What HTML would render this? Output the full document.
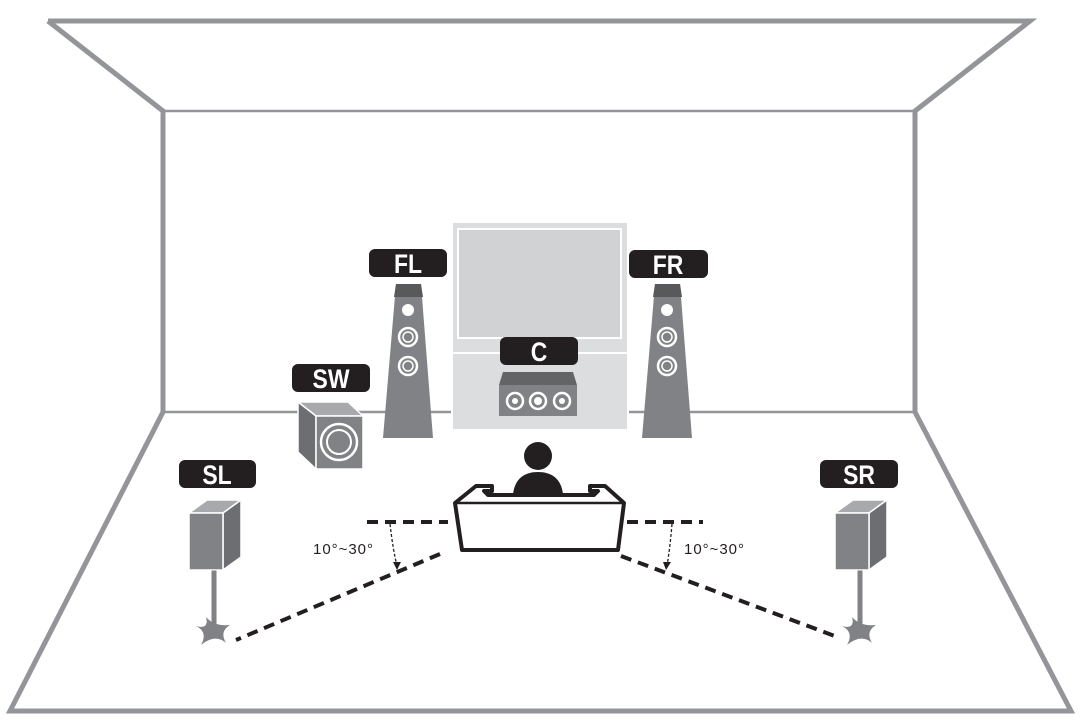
<!DOCTYPE html>
<html><head><meta charset="utf-8"><style>html,body{margin:0;padding:0;background:#fff}svg{display:block}</style></head><body>
<svg width="1080" height="728" viewBox="0 0 1080 728" xmlns="http://www.w3.org/2000/svg" font-family="Liberation Sans, sans-serif">
<g fill="none" stroke="#939598" stroke-linejoin="miter">
<polyline points="48,21 1030,21 915,111 915,412 1071,711 10,711 163,412 163,111 48,21" stroke-width="5"/>
<line x1="163" y1="111" x2="915" y2="111" stroke-width="2.5"/>
<line x1="163" y1="412" x2="915" y2="412" stroke-width="2.5"/>
</g>
<!-- TV -->
<rect x="452" y="222" width="176" height="208" fill="#dcddde" stroke="#fff" stroke-width="2"/>
<rect x="458" y="229" width="163" height="109" fill="#d1d2d4" stroke="#fff" stroke-width="2"/>
<line x1="452" y1="353" x2="628" y2="353" stroke="#fff" stroke-width="2"/>
<!-- labels -->
<g fill="#231f20">
<rect x="369" y="249" width="78" height="28" rx="6"/>
<rect x="629" y="250" width="79" height="28" rx="6"/>
<rect x="500" y="337" width="78" height="28" rx="6"/>
<rect x="292" y="364" width="78" height="28" rx="6"/>
<rect x="179" y="460" width="77" height="28" rx="6"/>
<rect x="820" y="460" width="78" height="28" rx="6"/>
</g>
<g fill="#fff" font-size="27" font-weight="bold" text-anchor="middle">
<text transform="translate(408,273) scale(0.85,1)">FL</text>
<text transform="translate(668,274) scale(0.85,1)">FR</text>
<text transform="translate(539,361) scale(0.85,1)">C</text>
<text transform="translate(331,388) scale(0.85,1)">SW</text>
<text transform="translate(217,484) scale(0.85,1)">SL</text>
<text transform="translate(859,484) scale(0.85,1)">SR</text>
</g>
<!-- towers -->
<g>
<polygon points="396,284 421,284 433,438 383,438" fill="#808285"/>
<polygon points="396,284 421,284 423,297 394,297" fill="#58595b"/>
<circle cx="408" cy="310" r="6" fill="#fff"/>
<circle cx="408" cy="337" r="9" fill="none" stroke="#fff" stroke-width="2.5"/><circle cx="408" cy="337" r="5" fill="none" stroke="#fff" stroke-width="1.5"/>
<circle cx="408" cy="366" r="9" fill="none" stroke="#fff" stroke-width="2.5"/><circle cx="408" cy="366" r="5" fill="none" stroke="#fff" stroke-width="1.5"/>
</g>
<g transform="translate(259,0)">
<polygon points="396,284 421,284 433,438 383,438" fill="#808285"/>
<polygon points="396,284 421,284 423,297 394,297" fill="#58595b"/>
<circle cx="408" cy="310" r="6" fill="#fff"/>
<circle cx="408" cy="337" r="9" fill="none" stroke="#fff" stroke-width="2.5"/><circle cx="408" cy="337" r="5" fill="none" stroke="#fff" stroke-width="1.5"/>
<circle cx="408" cy="366" r="9" fill="none" stroke="#fff" stroke-width="2.5"/><circle cx="408" cy="366" r="5" fill="none" stroke="#fff" stroke-width="1.5"/>
</g>
<!-- center speaker -->
<polygon points="503,372 573,372 577,385 499,385" fill="#636466"/>
<rect x="499" y="385" width="78" height="31" fill="#808285"/>
<g fill="none" stroke="#fff" stroke-width="2.5">
<circle cx="515" cy="401" r="8"/><circle cx="538" cy="401" r="8"/><circle cx="562" cy="401" r="8"/></g>
<g fill="#fff"><circle cx="515" cy="401" r="3"/><circle cx="538" cy="401" r="4"/><circle cx="562" cy="401" r="3"/></g>
<!-- subwoofer -->
<polygon points="298,402 348,402 363,416 316,416" fill="#a7a9ac" stroke="#fff" stroke-width="1.5"/>
<polygon points="298,402 316,416 316,469 298,452" fill="#6d6e71" stroke="#fff" stroke-width="1.5"/>
<rect x="316" y="416" width="47" height="53" fill="#808285" stroke="#fff" stroke-width="1.5"/>
<circle cx="339" cy="442" r="18" fill="none" stroke="#fff" stroke-width="2.5"/>
<circle cx="339" cy="442" r="12" fill="none" stroke="#fff" stroke-width="2"/>
<!-- person -->
<circle cx="538" cy="456" r="14" fill="#231f20"/>
<path d="M513,494 C515,478 525,472 538,472 C551,472 561,478 563,494 Z" fill="#231f20"/>
<!-- sofa -->
<path d="M455,503 L476,486 L492,486 L492,491 L484,491 L488,495 L594,495 L598,491 L590,491 L590,486 L605,486 L624,503 L618,550 L462,550 Z" fill="#fff" stroke="#231f20" stroke-width="4" stroke-linejoin="round"/>
<line x1="455" y1="503" x2="624" y2="503" stroke="#231f20" stroke-width="2.5"/>
<!-- side speakers -->
<g>
<polygon points="189,513 207,500 241,500 223,513" fill="#a7a9ac" stroke="#fff" stroke-width="1.5"/>
<polygon points="223,513 241,500 241,557 223,570" fill="#6d6e71" stroke="#fff" stroke-width="1.5"/>
<rect x="189" y="513" width="34" height="57" fill="#808285" stroke="#fff" stroke-width="1.5"/>
<rect x="211" y="570" width="6" height="63" fill="#808285" stroke="#fff" stroke-width="1"/>
<path d="M196,626 C206,629 208,624 206,617 C212,624 220,626 230,625 C222,630 222,636 226,643 C218,636 210,638 201,645 C206,636 204,630 196,626 Z" fill="#808285"/>
</g>
<g transform="translate(646,0)">
<polygon points="189,513 207,500 241,500 223,513" fill="#a7a9ac" stroke="#fff" stroke-width="1.5"/>
<polygon points="223,513 241,500 241,557 223,570" fill="#6d6e71" stroke="#fff" stroke-width="1.5"/>
<rect x="189" y="513" width="34" height="57" fill="#808285" stroke="#fff" stroke-width="1.5"/>
<rect x="211" y="570" width="6" height="63" fill="#808285" stroke="#fff" stroke-width="1"/>
<path d="M196,626 C206,629 208,624 206,617 C212,624 220,626 230,625 C222,630 222,636 226,643 C218,636 210,638 201,645 C206,636 204,630 196,626 Z" fill="#808285"/>
</g>
<!-- dashed lines -->
<g stroke="#231f20" stroke-width="4" stroke-dasharray="11,7" fill="none">
<line x1="367" y1="522" x2="448" y2="522"/>
<line x1="627" y1="522" x2="703" y2="522"/>
<line x1="440" y1="554" x2="236" y2="640"/>
<line x1="621" y1="556" x2="840" y2="638"/>
</g>
<g stroke="#231f20" stroke-width="1.3" stroke-dasharray="3,2" fill="none">
<path d="M390,524 Q393,550 397,566"/>
<path d="M672,524 Q670,548 667,566"/>
</g>
<g fill="#231f20">
<polygon points="393,562 401,562 397,570"/>
<polygon points="663,562 671,562 666,570"/>
</g>
<g font-size="15" fill="#231f20">
<text x="313" y="554" textLength="60">10°~30°</text>
<text x="684" y="554" textLength="60">10°~30°</text>
</g>
</svg>
</body></html>
